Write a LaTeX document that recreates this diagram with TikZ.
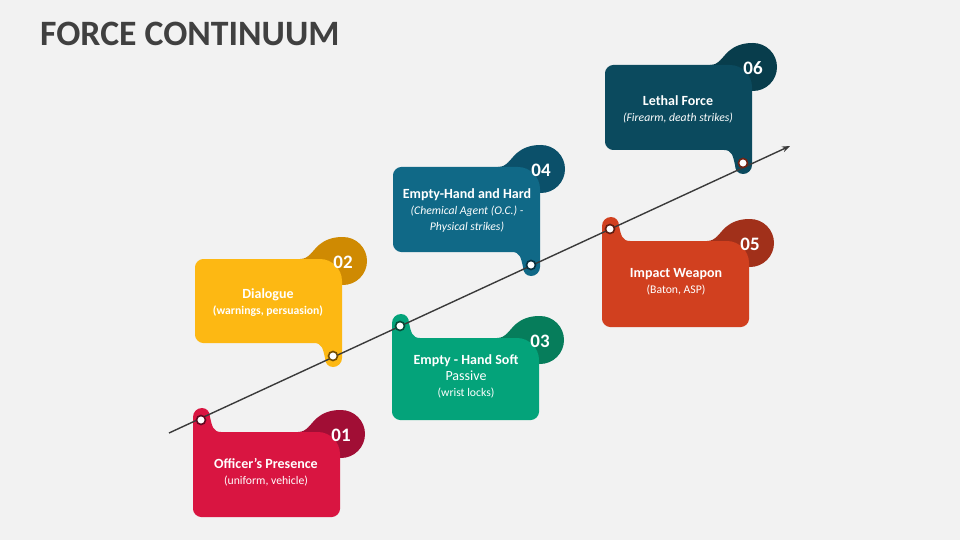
\documentclass[tikz,border=0pt]{standalone}
\usepackage{fontspec}
\setmainfont{Carlito}
\usepackage{xcolor}
\usetikzlibrary{arrows.meta}

\definecolor{bg}{HTML}{F2F2F2}
\definecolor{titlegray}{HTML}{404040}
\definecolor{linegray}{HTML}{3A3A3A}
% card colours (c) and bubble colours (d)
\definecolor{c1}{HTML}{D91541}\definecolor{d1}{HTML}{A10E35}
\definecolor{c2}{HTML}{FDB813}\definecolor{d2}{HTML}{CF8A02}
\definecolor{c3}{HTML}{04A37A}\definecolor{d3}{HTML}{067D5B}
\definecolor{c4}{HTML}{106987}\definecolor{d4}{HTML}{0B506A}
\definecolor{c5}{HTML}{D1401F}\definecolor{d5}{HTML}{A1301A}
\definecolor{c6}{HTML}{0B4A5E}\definecolor{d6}{HTML}{083D4C}
\newcommand{\subf}{\mdseries\fontsize{11.7}{16}\selectfont}

\begin{document}
\begin{tikzpicture}[x=1pt,y=-1pt,>={Stealth[length=8pt,width=6pt]},
  lbl/.style={text=white,align=center,inner sep=0pt,
              font=\bfseries\fontsize{14}{16}\selectfont},
  num/.style={text=white,inner sep=0pt,font=\bfseries\fontsize{19}{22}\selectfont},
  dot/.style={circle,fill=white,line width=1.6pt,inner sep=0pt,minimum size=9pt}]
  % background
  \fill[bg] (0,0) rectangle (960,540);
  \useasboundingbox (0,0) rectangle (960,540);
  \node[anchor=base west,inner sep=0pt,text=titlegray,
        font=\bfseries\fontsize{35.7}{40}\selectfont] (title) at (40,46) {FORCE CONTINUUM};

  % cards with the tab on top
  \foreach \n/\L/\T/\R/\B in {1/193/432/340/517,3/392/338/539/420,5/602/241/749/327} {
    \fill[d\n] (\R+1,\T+2) circle (24pt);
    \fill[d\n] (\R-42,\T+6) -- (\R-42,\T) .. controls (\R-33,\T) and (\R-30,\T-8) .. (\R-23,\T-14)
      .. controls (\R-16,\T-20) and (\R-8,\T-22) .. (\R+1,\T-22)
      -- (\R+1,\T+2) -- (\R-10,\T+20) -- cycle;
    \fill[c\n] (\L,\B-8) -- (\L,\T-15)
      .. controls (\L,\T-20) and (\L+4,\T-24) .. (\L+9,\T-24)
      .. controls (\L+14,\T-24) and (\L+17,\T-20) .. (\L+17,\T-15)
      .. controls (\L+19,\T-6) and (\L+20,\T) .. (\L+28,\T)
      -- (\R-22,\T) .. controls (\R-10,\T) and (\R,\T+10) .. (\R,\T+22)
      -- (\R,\B-8) .. controls (\R,\B-4) and (\R-4,\B) .. (\R-8,\B)
      -- (\L+8,\B) .. controls (\L+4,\B) and (\L,\B-4) .. (\L,\B-8) -- cycle;
    \node[num] (n\n) at (\R+1,\T+3) {0\n};
  }

  % cards with the tab below
  \foreach \n/\L/\T/\R/\B in {2/195/259/342/343,4/393/167/540/252,6/605/65/752/150} {
    \fill[d\n] (\R+1,\T+2) circle (24pt);
    \fill[d\n] (\R-42,\T+6) -- (\R-42,\T) .. controls (\R-33,\T) and (\R-30,\T-8) .. (\R-23,\T-14)
      .. controls (\R-16,\T-20) and (\R-8,\T-22) .. (\R+1,\T-22)
      -- (\R+1,\T+2) -- (\R-10,\T+20) -- cycle;
    \fill[c\n] (\L,\T+8) .. controls (\L,\T+4) and (\L+4,\T) .. (\L+8,\T)
      -- (\R-22,\T) .. controls (\R-10,\T) and (\R,\T+10) .. (\R,\T+22)
      -- (\R,\B+15) .. controls (\R,\B+20) and (\R-4,\B+24) .. (\R-9,\B+24)
      .. controls (\R-14,\B+24) and (\R-17,\B+20) .. (\R-17,\B+15)
      .. controls (\R-19,\B+6) and (\R-20,\B) .. (\R-28,\B)
      -- (\L+8,\B) .. controls (\L+4,\B) and (\L,\B-4) .. (\L,\B-8) -- cycle;
    \node[num] (n\n) at (\R+1,\T+3) {0\n};
  }

  % the continuum
  \coordinate (start) at (169,433);
  \coordinate (end) at (790,146);
  \draw[->,line width=1.4pt,draw=linegray] (start) -- (end);
  \foreach \n/\x/\y/\r in {1/201/420/d1!60!black,2/333/356/d2!55!black,3/400/326/d3!60!black,
                           4/531/265/d4!60!black,5/610/229/d5!60!black,6/743/163/d5!70!black}
    \node[dot,draw=\r] (p\n) at (\x,\y) {};

  % labels
  \node[lbl] (t1) at (266,472) {Officer's Presence\\{\subf (uniform, vehicle)}};
  \node[lbl] (t2) at (268,303) {Dialogue\\{\subf\bfseries (warnings, persuasion)}};
  \node[lbl] (t3) at (466,376) {Empty - Hand Soft\\{\mdseries Passive}\\{\subf (wrist locks)}};
  \node[lbl] (t4) at (467,211) {Empty-Hand and Hard\\{\subf\itshape (Chemical Agent (O.C.) -}\\{\subf\itshape Physical strikes)}};
  \node[lbl] (t5) at (676,282) {Impact Weapon\\{\subf (Baton, ASP)}};
  \node[lbl] (t6) at (678,109) {Lethal Force\\{\subf\itshape (Firearm, death strikes)}};
\end{tikzpicture}
\end{document}
